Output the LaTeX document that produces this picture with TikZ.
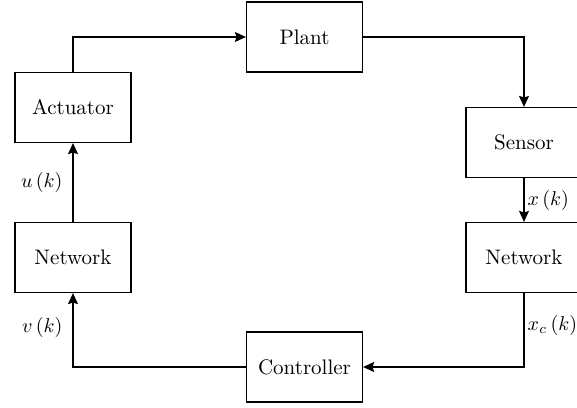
\documentclass[tikz,border=0pt]{standalone}
\usepackage{amsmath}
\usepackage{tikz}
\usetikzlibrary{arrows.meta, positioning}

\begin{document}
\begin{tikzpicture}[
    x=0.5pt, y=-0.5pt,
    block/.style={rectangle, draw, line width=0.6pt, minimum width=58pt, minimum height=35pt, text centered, inner sep=0pt, font=\fontsize{10.5}{12}\selectfont},
    arrow/.style={-{Stealth[length=5.5pt, width=5pt, inset=0.8pt]}, line width=0.6pt},
    sig/.style={font=\normalsize}
]
    \useasboundingbox (0,0) rectangle (577,407);

    % Blocks
    \node[block] (plant) at (304.5,37) {Plant};
    \node[block] (actuator) at (73,107.5) {Actuator};
    \node[block] (sensor) at (524,142.5) {Sensor};
    \node[block] (netright) at (524,257.5) {Network};
    \node[block] (netleft) at (73,257.5) {Network};
    \node[block] (controller) at (304.5,367) {Controller};

    % Arrows
    \draw[arrow] (actuator.north) |- (plant.west);
    \draw[arrow] (plant.east) -| (sensor.north);
    \draw[arrow] (sensor) -- node[sig, right, inner sep=1.5pt] {$x\,(k)$} (netright);
    \draw[arrow] (netright.south) |- node[sig, right, pos=0.22, inner sep=1.5pt] {$x_c\,(k)$} (controller.east);
    \draw[arrow] (controller.west) -| node[sig, left, pos=0.77, inner sep=5pt] {$v\,(k)$} (netleft.south);
    \draw[arrow] (netleft) -- node[sig, left, inner sep=5pt] {$u\,(k)$} (actuator);
\end{tikzpicture}
\end{document}
